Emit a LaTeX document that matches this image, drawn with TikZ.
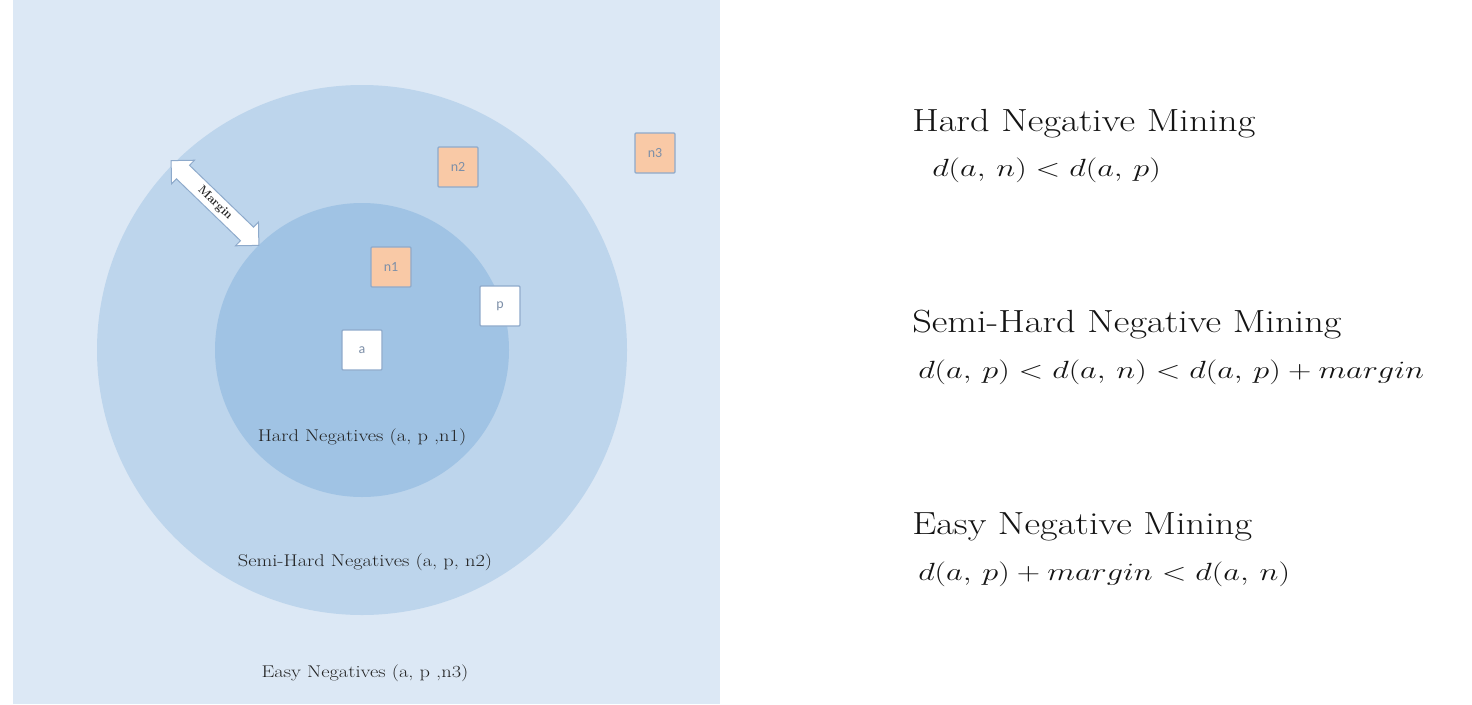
\documentclass[tikz,border=0pt]{standalone}
\usepackage{fontspec}
\newfontfamily\boxfont{Carlito}
\usetikzlibrary{shapes.arrows}
\definecolor{bgpanel}{HTML}{DCE8F5}
\definecolor{outerc}{HTML}{BDD5EC}
\definecolor{innerc}{HTML}{A0C3E4}
\definecolor{peach}{HTML}{F9C9A6}
\definecolor{boxedge}{HTML}{8EAACB}
\definecolor{boxtext}{HTML}{7D8FA8}
\definecolor{labeltext}{HTML}{222222}
\tikzset{
  sample/.style={draw=boxedge, line width=1.2pt, minimum size=40pt, inner sep=0pt,
    font=\boxfont\fontsize{14}{14}\selectfont, text=boxtext, rounded corners=1pt},
  negbox/.style={sample, fill=peach},
  posbox/.style={sample, fill=white},
  region/.style={font=\fontsize{17}{17}\selectfont, text=labeltext, xscale=1.2},
  heading/.style={anchor=base west, inner sep=0pt, font=\fontsize{32}{32}\selectfont, text=black!92, xscale=1.2},
  formula/.style={anchor=base west, inner sep=0pt, font=\fontsize{38}{38}\selectfont, text=black!92, xscale=1.3},
  marginarrow/.style={double arrow, draw=boxedge, fill=white, line width=1pt,
    double arrow head extend=7pt, double arrow tip angle=90, minimum height=122pt,
    minimum width=33pt, inner sep=3.5pt, font=\fontsize{12}{12}\selectfont\bfseries, text=labeltext}
}
\begin{document}
\begin{tikzpicture}[x=1pt,y=-1pt]
\useasboundingbox (0,0) rectangle (1472,704);
\fill[white] (0,0) rectangle (1472,704);
\fill[bgpanel] (13,0) rectangle (720,704);
\fill[outerc] (362,350) circle[radius=265];
\fill[innerc] (362,350) circle[radius=147];
\node[negbox] (n2) at (458,167) {n2};
\node[negbox] (n3) at (655,153) {n3};
\node[negbox] (n1) at (391,267) {n1};
\node[posbox] (p) at (500,306) {p};
\node[posbox] (a) at (362,350) {a};
\node[marginarrow, rotate=-44] (margin) at (215,203) {Margin};
\node[region] (hardlbl) at (362,437) {Hard Negatives (a, p ,n1)};
\node[region] (semilbl) at (365,562) {Semi-Hard Negatives (a, p, n2)};
\node[region] (easylbl) at (365,673) {Easy Negatives (a, p ,n3)};
\node[heading] (h1) at (912,131) {Hard Negative Mining};
\node[formula] (f1) at (932,176) {$d(a,\,n)<d(a,\,p)$};
\node[heading] (h2) at (912,332) {Semi-Hard Negative Mining};
\node[formula] (f2) at (918,378) {$d(a,\,p)<d(a,\,n)<d(a,\,p)+margin$};
\node[heading] (h3) at (912,534) {Easy Negative Mining};
\node[formula] (f3) at (918,580) {$d(a,\,p)+margin<d(a,\,n)$};
\end{tikzpicture}
\end{document}
